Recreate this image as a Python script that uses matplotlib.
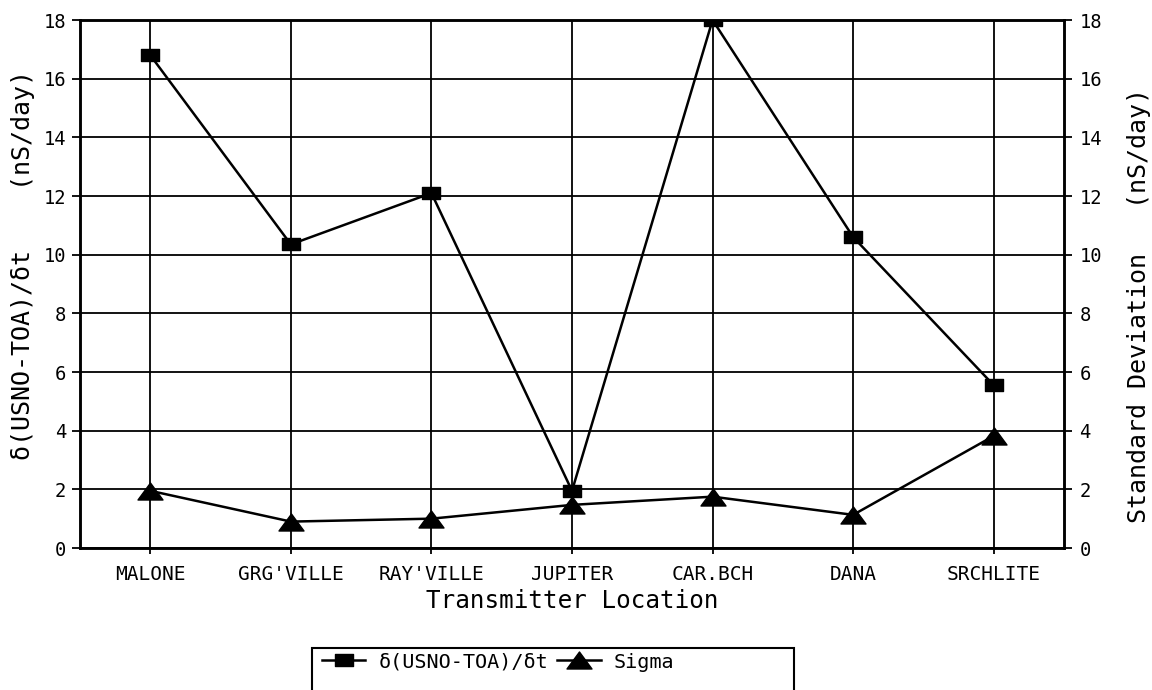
import matplotlib
matplotlib.use("Agg")
import matplotlib.pyplot as plt
from matplotlib.path import Path
from matplotlib.patches import Rectangle

categories = ["MALONE", "GRG'VILLE", "RAY'VILLE", "JUPITER", "CAR.BCH", "DANA", "SRCHLITE"]
drift = [16.8, 10.35, 12.1, 1.95, 18.0, 10.6, 5.55]
sigma = [1.95, 0.9, 1.0, 1.47, 1.75, 1.13, 3.82]
yticks = list(range(0, 19, 2))

plt.rcParams['font.family'] = ['DejaVu Sans Mono', 'DejaVu Sans']

W, H = 1152, 690
fig = plt.figure(figsize=(W / 100, H / 100), dpi=100)
left, right, bottom, top = 80, 1064, 548, 20
ax = fig.add_axes([left / W, 1 - bottom / H, (right - left) / W, (bottom - top) / H])
ax2 = ax.twinx()

rect_marker = Path([(-1, -0.65), (1, -0.65), (1, 0.65), (-1, 0.65), (-1, -0.65)],
                   [Path.MOVETO, Path.LINETO, Path.LINETO, Path.LINETO, Path.CLOSEPOLY])
tri_marker = Path([(-1, -0.68), (1, -0.68), (0, 0.68), (-1, -0.68)],
                  [Path.MOVETO, Path.LINETO, Path.LINETO, Path.CLOSEPOLY])

x = list(range(len(categories)))
l1, = ax.plot(x, drift, color='black', lw=1.8, marker=rect_marker, markersize=12.5,
              markerfacecolor='black', markeredgecolor='black', zorder=5,
              label="δ(USNO-TOA)/δt")
l2, = ax2.plot(x, sigma, color='black', lw=1.8, marker=tri_marker, markersize=18,
               markerfacecolor='black', markeredgecolor='black', zorder=5,
               label="Sigma")

for a in (ax, ax2):
    a.set_xlim(-0.5, len(categories) - 0.5)
    a.set_ylim(0, 18)
    a.set_yticks(yticks)
    for s in a.spines.values():
        s.set_linewidth(1.8)
        s.set_color('black')

ax.set_xticks(x)
ax.set_xticklabels(categories, fontsize=14)
ax.grid(True, color='black', lw=1.3)
ax.set_axisbelow(True)
ax.tick_params(axis='y', direction='out', length=6, width=1.3, labelsize=13.5, pad=4)
ax.tick_params(axis='x', direction='out', length=4, width=1.3, pad=8)
ax2.tick_params(axis='y', direction='out', length=6, width=1.3, labelsize=13.5, pad=5)

ax.set_xlabel("Transmitter Location", fontsize=17.5, labelpad=4)
ax.set_ylabel("δ(USNO-TOA)/δt    (nS/day)", fontsize=18, labelpad=6)
ax.yaxis.label.set_y(0.536)
ax2.set_ylabel("Standard Deviation   (nS/day)", fontsize=18, labelpad=18)
ax2.yaxis.label.set_y(0.46)

# legend box (bottom edge extends beyond figure)
fig.add_artist(Rectangle((312 / W, -0.1), (794 - 312) / W, (1 - 648 / H) + 0.1,
                         transform=fig.transFigure, fill=False, lw=1.5,
                         edgecolor='black', clip_on=False))
fig.legend(handles=[l1, l2], loc='center left', bbox_to_anchor=(322 / W, 1 - 662 / H),
           ncol=2, frameon=False, fontsize=14.5, handlelength=2.15, handletextpad=0.65,
           columnspacing=0.45, borderpad=0, borderaxespad=0)

fig.savefig("out.png", dpi=100)
